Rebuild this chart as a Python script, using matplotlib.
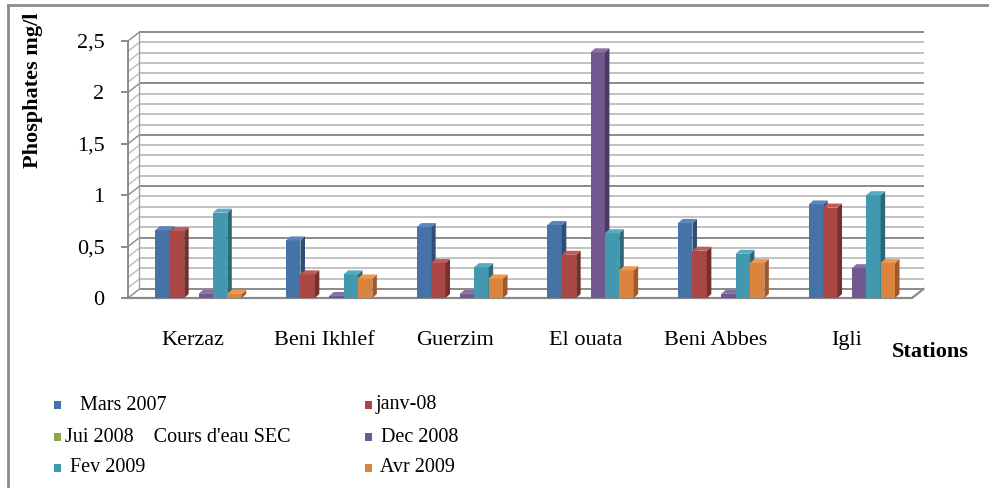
import matplotlib
matplotlib.use("Agg")
import matplotlib.pyplot as plt
import numpy as np
from matplotlib.patches import Polygon, Rectangle
from matplotlib.lines import Line2D

# ---------------- data ----------------
stations = ["Kerzaz", "Beni Ikhlef", "Guerzim", "El ouata", "Beni Abbes", "Igli"]
series_labels = ["   Mars 2007", "janv-08", "Jui 2008    Cours d'eau SEC",
                 " Dec 2008", " Fev 2009", " Avr 2009"]
mars_2007 = [0.66, 0.56, 0.69, 0.71, 0.73, 0.91]
janv_08 = [0.65, 0.23, 0.34, 0.42, 0.46, 0.88]
jui_2008 = [0, 0, 0, 0, 0, 0]
dec_2008 = [0.04, 0.02, 0.04, 2.39, 0.04, 0.29]
fev_2009 = [0.83, 0.23, 0.30, 0.63, 0.43, 1.00]
avr_2009 = [0.04, 0.19, 0.19, 0.27, 0.34, 0.34]
y_ticks = [0, 0.5, 1, 1.5, 2, 2.5]
y_tick_labels = ["0", "0,5", "1", "1,5", "2", "2,5"]

series = [mars_2007, janv_08, jui_2008, dec_2008, fev_2009, avr_2009]
front_colors = ["#4572A7", "#AA4643", "#89A54E", "#71588F", "#4198AF", "#DB843D"]
side_colors = ["#2E4E75", "#752F2D", "#5E7235", "#4C3B61", "#2B6878", "#A0592A"]
top_colors = ["#5A86BC", "#BE5A57", "#9DB962", "#8770A4", "#55ACC3", "#EE9850"]

# ---------------- figure ----------------
W, H = 989, 488
fig = plt.figure(figsize=(W / 100, H / 100), dpi=100)
plt.rcParams['font.family'] = ['Liberation Serif', 'DejaVu Serif']

ax_l, ax_r, ax_t, ax_b = 128, 912, 41, 298
ax = fig.add_axes([ax_l / W, (H - ax_b) / H, (ax_r - ax_l) / W, (ax_b - ax_t) / H])
xmin, xmax, ymin, ymax = -0.5, 5.5, 0, 2.5
ax.set_xlim(xmin, xmax)
ax.set_ylim(ymin, ymax)

px_x = (ax_r - ax_l) / (xmax - xmin)   # pixels per x unit
px_y = (ax_b - ax_t) / (ymax - ymin)   # pixels per y unit

# back wall offset
bx = 11.5 / px_x
by = 9 / px_y

minor_c = "#BDBDBD"
major_c = "#8A8A8A"
for v in np.round(np.arange(0, 2.501, 0.1), 2):
    major = abs(v * 2 - round(v * 2)) < 1e-6
    c = major_c if major else minor_c
    lw = 1.4 if major else 1.3
    ax.plot([xmin + bx, xmax + bx], [v + by, v + by], color=c, lw=lw,
            clip_on=False, zorder=1, solid_capstyle='butt')
    ax.plot([xmin, xmin + bx], [v, v + by], color=c, lw=1.0,
            clip_on=False, zorder=1)
# left wall back edge
ax.plot([xmin + bx, xmin + bx], [by, ymax + by], color="#A0A0A0", lw=1.0,
        clip_on=False, zorder=1)
# floor
ax.plot([xmin, xmax, xmax + bx], [0, 0, by], color="#8A8A8A", lw=1.6,
        clip_on=False, zorder=2)

# ---------------- bars ----------------
bw = 0.11
shift = 0.04
ddx = 4.5 / px_x
ddy = 4.0 / px_y
z = 5
for i in range(len(stations)):
    for k, vals in enumerate(series):
        v = vals[i]
        if v <= 0:
            continue
        x0 = i + shift + (k - 3) * bw
        ax.add_patch(Rectangle((x0, 0), bw, v, facecolor=front_colors[k],
                               edgecolor="none", zorder=z, clip_on=False))
        ax.add_patch(Polygon([(x0 + bw, 0), (x0 + bw + ddx, ddy),
                              (x0 + bw + ddx, v + ddy), (x0 + bw, v)],
                             closed=True, facecolor=side_colors[k],
                             edgecolor="none", zorder=z, clip_on=False))
        ax.add_patch(Polygon([(x0, v), (x0 + ddx, v + ddy),
                              (x0 + bw + ddx, v + ddy), (x0 + bw, v)],
                             closed=True, facecolor=top_colors[k],
                             edgecolor="none", zorder=z, clip_on=False))
        z += 1

# ---------------- axes styling ----------------
for s in ["top", "right", "bottom"]:
    ax.spines[s].set_visible(False)
ax.spines["left"].set_color("#8A8A8A")
ax.spines["left"].set_linewidth(1.4)
ax.set_yticks(y_ticks)
ax.set_yticklabels(y_tick_labels, fontsize=16)
ax.tick_params(axis="y", direction="out", length=5, color="#8A8A8A", width=1.4, pad=12)
ax.set_xticks(range(len(stations)))
ax.set_xticklabels(stations, fontsize=16)
ax.tick_params(axis="x", length=0, pad=24)
ax.patch.set_alpha(0)

fig.text(33 / W, 1 - 90 / H, "Phosphates mg/l", rotation=90, fontsize=16,
         fontweight="bold", ha="center", va="center")
fig.text(930 / W, 1 - 352 / H, "Stations", fontsize=16, fontweight="bold",
         ha="center", va="center")

# chart border (left and top visible)
fig.add_artist(Line2D([8 / W, 8 / W], [0, 1 - 5 / H], color="#8C8C8C", lw=2,
                      transform=fig.transFigure))
fig.add_artist(Line2D([8 / W, 1], [1 - 5 / H, 1 - 5 / H], color="#8C8C8C", lw=2,
                      transform=fig.transFigure))

# ---------------- legend (manual, 2 columns) ----------------
col_x = [54, 365]
row_y = [405, 437, 468]
for k, lab in enumerate(series_labels):
    col = k % 2
    row = k // 2
    mx, my = col_x[col], row_y[row]
    fig.add_artist(Rectangle((mx / W, 1 - (my + 4) / H), 7 / W, 8 / H,
                             transform=fig.transFigure, facecolor=front_colors[k],
                             edgecolor="none"))
    fig.text((mx + 11) / W, 1 - my / H, lab, fontsize=14.5, ha="left", va="center")

fig.savefig("out.png", dpi=100)
